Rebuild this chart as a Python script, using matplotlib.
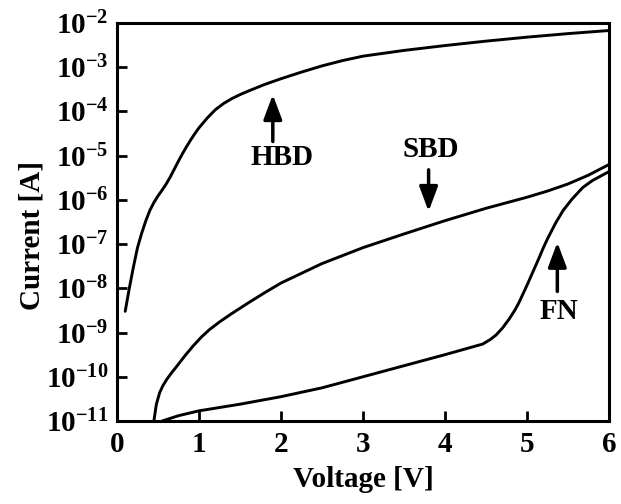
import matplotlib
matplotlib.use("Agg")
import matplotlib.pyplot as plt
import numpy as np

# ---- data ----
hbd_v = [0.10, 0.15, 0.20, 0.25, 0.30, 0.35, 0.40, 0.45, 0.50, 0.55, 0.60, 0.65,
         0.70, 0.75, 0.80, 0.85, 0.90, 0.95, 1.00, 1.10, 1.20, 1.30, 1.40, 1.50,
         1.60, 1.80, 2.00, 2.25, 2.50, 2.75, 3.00, 3.50, 4.00, 4.50, 5.00, 5.50, 6.00]
hbd_log_i = [-8.52, -8.00, -7.52, -7.08, -6.76, -6.48, -6.24, -6.06, -5.91, -5.78,
             -5.64, -5.48, -5.30, -5.12, -4.95, -4.79, -4.64, -4.50, -4.37, -4.15,
             -3.96, -3.82, -3.71, -3.62, -3.54, -3.39, -3.26, -3.11, -2.97, -2.85,
             -2.75, -2.62, -2.51, -2.41, -2.32, -2.24, -2.17]

sbd_v = [0.45, 0.48, 0.52, 0.56, 0.61, 0.67, 0.73, 0.83, 0.93, 1.03, 1.13, 1.25,
         1.40, 1.60, 1.80, 2.00, 2.50, 3.00, 3.50, 4.00, 4.50, 5.00, 5.25, 5.50,
         5.75, 6.00]
sbd_log_i = [-11.00, -10.62, -10.36, -10.20, -10.05, -9.90, -9.76, -9.52, -9.30,
             -9.10, -8.93, -8.76, -8.57, -8.33, -8.10, -7.88, -7.44, -7.08, -6.77,
             -6.47, -6.19, -5.94, -5.80, -5.64, -5.44, -5.20]

fn_v = [0.55, 0.75, 1.00, 1.50, 2.00, 2.50, 3.00, 3.50, 4.00, 4.46, 4.55, 4.62,
        4.70, 4.78, 4.85, 4.90, 4.95, 5.00, 5.05, 5.10, 5.15, 5.20, 5.25, 5.30,
        5.35, 5.44, 5.55, 5.68, 5.80, 5.90, 6.00]
fn_log_i = [-11.00, -10.88, -10.77, -10.62, -10.45, -10.25, -10.00, -9.75, -9.50,
            -9.26, -9.16, -9.06, -8.90, -8.70, -8.50, -8.33, -8.13, -7.93, -7.72,
            -7.51, -7.30, -7.08, -6.88, -6.70, -6.52, -6.24, -5.98, -5.72, -5.56,
            -5.46, -5.36]

x_ticks = [0, 1, 2, 3, 4, 5, 6]
y_tick_exps = [-2, -3, -4, -5, -6, -7, -8, -9, -10, -11]
y_tick_labels = [r"$\mathdefault{10^{%d}}$" % e for e in y_tick_exps]

# annotations: (label, text position, arrow tail, arrow head)
annotations = [
    ("HBD", (2.01, 10**-5.05), (1.90, 10**-4.68), (1.90, 10**-3.62)),
    ("SBD", (3.83, 10**-4.86), (3.80, 10**-5.32), (3.80, 10**-6.26)),
    ("FN", (5.39, 10**-8.52), (5.37, 10**-8.07), (5.37, 10**-6.96)),
]

# ---- style ----
plt.rcParams["font.family"] = ["Liberation Serif", "DejaVu Serif"]
plt.rcParams["font.weight"] = "bold"
plt.rcParams["font.size"] = 21

fig = plt.figure(figsize=(6.21, 5.04), dpi=100)
ax = fig.add_axes([117 / 621, (504 - 421) / 504, (609 - 117) / 621, (421 - 23) / 504])

for v, li in [(hbd_v, hbd_log_i), (sbd_v, sbd_log_i), (fn_v, fn_log_i)]:
    ax.plot(v, 10.0 ** np.array(li), color="black", lw=2.1,
            solid_capstyle="round", solid_joinstyle="round")

ax.set_yscale("log")
ax.set_xlim(0, 6)
ax.set_ylim(1e-11, 1e-2)
ax.set_xticks(x_ticks)
ax.set_xticklabels([str(t) for t in x_ticks])
ax.set_yticks([10.0 ** e for e in y_tick_exps])
ax.set_yticklabels(y_tick_labels)
ax.yaxis.set_minor_locator(matplotlib.ticker.NullLocator())
ax.tick_params(axis="both", direction="in", length=7, width=2, top=False, right=False)
ax.tick_params(axis="x", pad=7)
ax.tick_params(axis="y", pad=6)
for lab in ax.get_xticklabels() + ax.get_yticklabels():
    lab.set_fontweight("bold")
for s in ax.spines.values():
    s.set_linewidth(2.2)

ax.set_xlabel("Voltage [V]", fontweight="bold", labelpad=6)
ax.set_ylabel("Current [A]", fontweight="bold")
ax.yaxis.set_label_coords(-0.146, 0.465)

for label, tpos, tail, head in annotations:
    ax.annotate("", xy=head, xytext=tail,
                arrowprops=dict(arrowstyle="-|>,head_length=0.75,head_width=0.28",
                                lw=2.5, color="black", shrinkA=0, shrinkB=0,
                                mutation_scale=20))
    ax.text(tpos[0], tpos[1], label, ha="center", va="center", fontweight="bold")

fig.savefig("out.png", dpi=100)
